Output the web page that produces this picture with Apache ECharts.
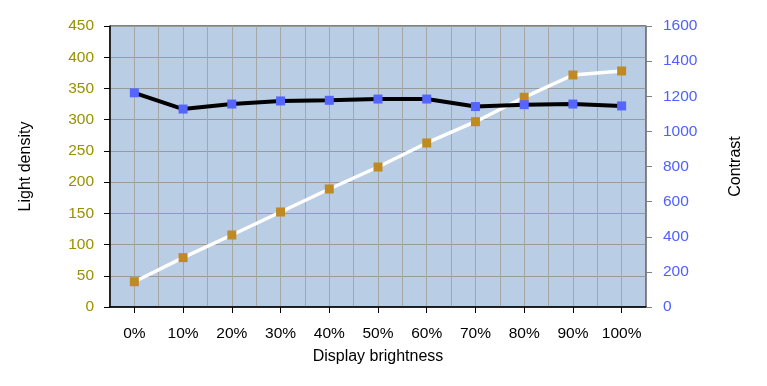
<!DOCTYPE html>
<html><head><meta charset="utf-8">
<script src="https://cdn.jsdelivr.net/npm/echarts@6/dist/echarts.min.js"></script>
<style>html,body{margin:0;padding:0;background:#fff}#c{width:767px;height:386px}</style>
</head><body><div id="c"></div>
<script>
var categories = ['0%','10%','20%','30%','40%','50%','60%','70%','80%','90%','100%'];
var lightDensity = [343, 317, 325, 330, 331, 333, 333, 321, 324, 325, 322];
var contrast = [144, 281, 410, 541, 672, 797, 934, 1055, 1194, 1321, 1344];
var leftTicks = {min: 0, max: 450, interval: 50};
var rightTicks = {min: 0, max: 1600, interval: 200};

var font = 'Liberation Sans, Arial, sans-serif';
var chart = echarts.init(document.getElementById('c'));
chart.setOption({
  animation: false,
  backgroundColor: '#fff',
  grid: {left: 110, right: 121, top: 26, bottom: 79, show: true, backgroundColor: '#b9cde5', borderColor: '#000', borderWidth: 1},
  xAxis: [{
    type: 'category', data: categories, boundaryGap: true,
    name: 'Display brightness', nameLocation: 'middle', nameGap: 42,
    nameTextStyle: {color: '#000', fontSize: 16, fontFamily: font},
    axisLine: {lineStyle: {color: '#000', width: 1.5}},
    axisTick: {show: true, alignWithLabel: true, length: 6, lineStyle: {color: '#000'}},
    axisLabel: {color: '#000', fontSize: 15.5, fontFamily: font, margin: 19, interval: 0},
    splitLine: {show: false}
  }, {
    type: 'value', min: 0, max: 22, interval: 1, position: 'top',
    axisLine: {show: false}, axisTick: {show: false}, axisLabel: {show: false},
    splitLine: {show: true, lineStyle: {color: '#a6a6a6', width: 1}}
  }],
  yAxis: [{
    type: 'value', min: leftTicks.min, max: leftTicks.max, interval: leftTicks.interval,
    name: 'Light density', nameLocation: 'middle', nameGap: 76, nameRotate: 90,
    nameTextStyle: {color: '#000', fontSize: 16, fontFamily: font},
    axisLine: {show: true, lineStyle: {color: '#000', width: 1.5}},
    axisTick: {show: true, length: 6, lineStyle: {color: '#000'}},
    axisLabel: {color: '#9a9000', fontSize: 15.5, fontFamily: font, margin: 16},
    splitLine: {show: true, lineStyle: {color: '#9a9a9a', width: 1}}
  }, {
    type: 'value', min: rightTicks.min, max: rightTicks.max, interval: rightTicks.interval, position: 'right',
    name: 'Contrast', nameLocation: 'middle', nameGap: 82, nameRotate: 90,
    nameTextStyle: {color: '#000', fontSize: 16, fontFamily: font},
    axisLine: {show: true, lineStyle: {color: '#808080', width: 1.5}},
    axisTick: {show: true, length: 6, lineStyle: {color: '#808080'}},
    axisLabel: {color: '#4f60ff', fontSize: 15.5, fontFamily: font, margin: 17, formatter: function (v) { return String(v); }},
    splitLine: {show: false}
  }],
  series: [{
    name: 'Contrast', type: 'line', yAxisIndex: 1, data: contrast,
    symbol: 'rect', symbolSize: 9,
    lineStyle: {color: '#ffffff', width: 3.5},
    itemStyle: {color: '#c08a22'}, z: 3
  }, {
    name: 'Light density', type: 'line', yAxisIndex: 0, data: lightDensity,
    symbol: 'rect', symbolSize: 9,
    lineStyle: {color: '#000000', width: 4},
    itemStyle: {color: '#5566ff'}, z: 4
  }]
});
</script></body></html>
